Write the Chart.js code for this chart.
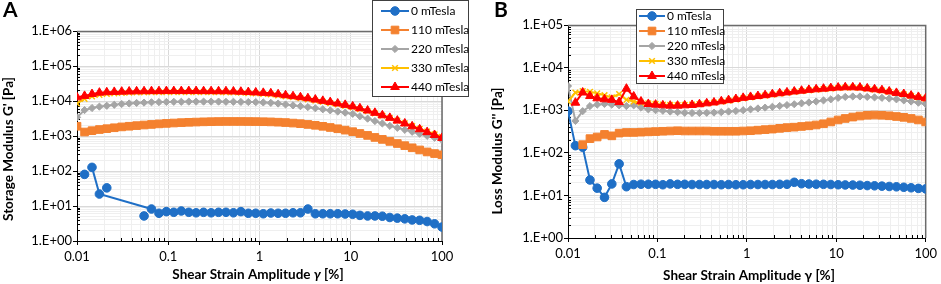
<!DOCTYPE html>
<html>
<head>
<meta charset="utf-8">
<script src="https://cdn.jsdelivr.net/npm/chart.js@4.4.1/dist/chart.umd.min.js"></script>
<style>
  body { margin: 0; background: #fff; }
  .panel { position: absolute; top: 0; }
</style>
</head>
<body>
<div class="panel" style="left:0"><canvas id="chartA" width="470" height="284"></canvas></div>
<div class="panel" style="left:470px"><canvas id="chartB" width="471" height="284"></canvas></div>
<script>
// 전단 변형률 진폭 γ [%]
const strain = [0.01, 0.0121, 0.0146, 0.0176, 0.0212, 0.0256, 0.0309, 0.0373, 0.045, 0.0543,
  0.0655, 0.0791, 0.0954, 0.115, 0.139, 0.168, 0.202, 0.244, 0.295, 0.356,
  0.429, 0.518, 0.625, 0.754, 0.91, 1.1, 1.33, 1.6, 1.93, 2.33,
  2.81, 3.39, 4.09, 4.94, 5.96, 7.2, 8.69, 10.5, 12.6, 15.3,
  18.4, 22.2, 26.8, 32.4, 39.1, 47.1, 56.9, 68.7, 82.9, 100];

// A: Storage Modulus G' [Pa]
const storage0 = [null, null, 127, 22, null, null, null, null, null, null,
  8.2, 6.2, 6.9, 6.6, 7.2, 6.6, 6.4, 6.6, 6.4, 6.6,
  6.6, 6.4, 6.9, 6.2, 6.2, 6.0, 6.3, 6.2, 6.2, 6.4,
  6.4, 8.2, 6.0, 6.0, 6.0, 6.0, 5.9, 5.8, 5.4, 5.2,
  5.2, 5.1, 4.7, 4.5, 4.3, 4.0, 3.9, 3.6, 3.1, 2.5];
// 선으로 연결되지 않은 점
const storage0Loose = [null, 80, null, null, 33, null, null, null, null, 5.2,
  null, null, null, null, null, null, null, null, null, null,
  null, null, null, null, null, null, null, null, null, null,
  null, null, null, null, null, null, null, null, null, null,
  null, null, null, null, null, null, null, null, null, null];
const storage110 = [1900, 1300, 1420, 1530, 1620, 1720, 1820, 1900, 1980, 2060,
  2140, 2220, 2290, 2350, 2410, 2460, 2500, 2540, 2570, 2590,
  2600, 2600, 2600, 2590, 2580, 2560, 2530, 2480, 2420, 2340,
  2250, 2140, 2020, 1890, 1750, 1610, 1470, 1330, 1180, 1040,
  910, 800, 700, 610, 530, 460, 400, 350, 315, 290];
const storage220 = [3420, 5500, 6300, 6900, 7300, 7800, 8200, 8500, 8800, 9000,
  9200, 9300, 9400, 9500, 9500, 9600, 9600, 9600, 9600, 9600,
  9500, 9500, 9400, 9350, 9300, 9100, 8850, 8450, 7950, 7500,
  7100, 6700, 6200, 5800, 5400, 5000, 4650, 4300, 3670, 3130,
  2670, 2280, 1950, 1710, 1500, 1320, 1160, 1010, 890, 770];
const storage330 = [8500, 11500, 13500, 15000, 16000, 16600, 17000, 17300, 17500, 17700,
  17800, 17900, 17900, 18000, 18000, 18000, 18000, 17900, 17900, 17800,
  17700, 17500, 17200, 16800, 16400, 15900, 15400, 14500, 13600, 12800,
  12000, 11200, 10300, 9500, 8700, 8000, 7300, 6600, 5900, 5100,
  4400, 3800, 3250, 2750, 2300, 1920, 1600, 1340, 1120, 950];
const storage440 = [12700, 14000, 15800, 17300, 17800, 18200, 18500, 18700, 18900, 19000,
  19100, 19100, 19200, 19200, 19200, 19200, 19200, 19100, 19100, 19000,
  19000, 18700, 18400, 18000, 17600, 17100, 16600, 15600, 14600, 13700,
  12800, 12000, 11000, 10100, 9300, 8500, 7750, 7000, 6200, 5350,
  4600, 3900, 3300, 2750, 2280, 1890, 1560, 1290, 1070, 880];

// B: Loss Modulus G'' [Pa]
const loss0 = [950, 147, 135, 23, 14.8, 9, 18.6, 55, 16, 18,
  18.3, 18.3, 18.2, 17.8, 18.6, 18.2, 18.2, 18.0, 18.0, 18.0,
  18.0, 17.8, 18.0, 17.8, 17.8, 18.0, 18.0, 18.0, 18.0, 18.2,
  18.2, 20.3, 18.8, 18.5, 18.3, 18.2, 18.0, 17.8, 17.6, 17.5,
  17.3, 17.0, 16.8, 16.5, 16.2, 15.9, 15.5, 15.1, 14.6, 14.2];
const loss110 = [null, null, 155, 215, 235, 270, 250, 290, 300, 300,
  305, 310, 315, 320, 325, 330, 325, 325, 325, 325,
  320, 320, 320, 320, 325, 330, 340, 350, 360, 375,
  390, 400, 415, 430, 450, 480, 530, 590, 640, 690,
  730, 760, 770, 760, 740, 710, 680, 640, 590, 530];
const loss220 = [3700, 560, 950, 1250, 1350, 1400, 1350, 1300, 1250, 1300,
  1150, 1050, 1000, 970, 930, 900, 870, 860, 860, 870,
  880, 900, 930, 960, 1000, 1050, 1100, 1150, 1200, 1260,
  1320, 1380, 1450, 1520, 1600, 1700, 1800, 1950, 2050, 2100,
  2100, 2050, 2000, 1950, 1880, 1800, 1700, 1600, 1500, 1400];
const loss330 = [1600, 2600, 2800, 2700, 2500, 2250, 2000, 2400, 1750, 1600,
  1500, 1450, 1400, 1360, 1330, 1320, 1330, 1350, 1390, 1440,
  1500, 1580, 1680, 1780, 1900, 2000, 2100, 2200, 2320, 2440,
  2560, 2680, 2800, 2920, 3020, 3120, 3220, 3320, 3370, 3370,
  3320, 3180, 3030, 2880, 2700, 2500, 2350, 2160, 2010, 1870];
const loss440 = [null, 1500, 2600, 2150, 1900, 1800, 1750, 1550, 3200, 2100,
  1600, 1400, 1350, 1300, 1280, 1280, 1300, 1330, 1380, 1450,
  1520, 1620, 1720, 1830, 1950, 2050, 2150, 2250, 2380, 2500,
  2620, 2750, 2870, 3000, 3100, 3200, 3300, 3400, 3450, 3450,
  3400, 3250, 3100, 2950, 2750, 2550, 2400, 2200, 2050, 1900];

// 범례 / 축 라벨
const seriesLabels = ["0 mTesla", "110 mTesla", "220 mTesla", "330 mTesla", "440 mTesla"];
const xTickValues = [0.01, 0.1, 1, 10, 100];
const xTickLabels = ["0.01", "0.1", "1", "10", "100"];
const yTickValuesA = [1, 10, 100, 1000, 10000, 100000, 1000000];
const yTickLabelsA = ["1.E+00", "1.E+01", "1.E+02", "1.E+03", "1.E+04", "1.E+05", "1.E+06"];
const yTickValuesB = [1, 10, 100, 1000, 10000, 100000];
const yTickLabelsB = ["1.E+00", "1.E+01", "1.E+02", "1.E+03", "1.E+04", "1.E+05"];

// 스타일
const seriesColors = ["#1f6fc6", "#f4812f", "#a5a5a5", "#ffc000", "#ff0000"];
const seriesMarkers = ["circle", "rect", "rectRot", "crossRot", "triangle"];
const markerRadius = [4.3, 5.4, 3.6, 4, 5];
const FONT = "Lato, 'Open Sans', sans-serif";

function toPoints(values) {
  return strain.map((x, i) => ({ x: x, y: values[i] }));
}

function makeDataset(idx, values, extra) {
  return Object.assign({
    label: seriesLabels[idx],
    data: toPoints(values),
    borderColor: seriesColors[idx],
    backgroundColor: seriesColors[idx],
    pointBackgroundColor: seriesColors[idx],
    pointBorderColor: seriesColors[idx],
    pointStyle: seriesMarkers[idx],
    pointRadius: markerRadius[idx],
    pointBorderWidth: idx === 3 ? 1.5 : 1,
    borderWidth: 2,
    order: 4 - idx, // 나중 시리즈가 위에 그려지도록
    spanGaps: true,
  }, extra || {});
}

// 로그축 눈금 (1~9 x 10^n)
function buildLogTicks(majors) {
  const ticks = [];
  majors.forEach((v, i) => {
    ticks.push({ value: v, major: true });
    if (i < majors.length - 1) {
      for (let k = 2; k <= 9; k++) ticks.push({ value: k * v, major: false });
    }
  });
  return ticks;
}
function labelFor(value, values, labels) {
  const i = values.findIndex((v) => Math.abs(value - v) / v < 1e-6);
  return i >= 0 ? labels[i] : "";
}

// 플롯 테두리 + 안쪽 보조 눈금
const framePlugin = {
  id: "frame",
  beforeDatasetsDraw(chart) {
    const { ctx, chartArea: a, scales } = chart;
    ctx.save();
    ctx.strokeStyle = "#6b6b6b";
    ctx.lineWidth = 1.5;
    ctx.beginPath();
    ctx.moveTo(a.left, a.top + 0.5);
    ctx.lineTo(a.right, a.top + 0.5);
    ctx.lineTo(a.right, a.bottom);
    ctx.stroke();
    ctx.strokeStyle = "#000";
    ctx.lineWidth = 1;
    ctx.beginPath();
    scales.x.ticks.forEach((t) => {
      if (t.major) return;
      const px = Math.round(scales.x.getPixelForValue(t.value)) + 0.5;
      ctx.moveTo(px, a.bottom);
      ctx.lineTo(px, a.bottom - 3);
    });
    scales.y.ticks.forEach((t) => {
      if (t.major) return;
      const py = Math.round(scales.y.getPixelForValue(t.value)) + 0.5;
      ctx.moveTo(a.left, py);
      ctx.lineTo(a.left + 3, py);
    });
    ctx.stroke();
    ctx.restore();
  },
};

function legendPlugin(box) {
  return {
    id: "boxLegend",
    afterDraw(chart) {
      const ctx = chart.ctx;
      ctx.save();
      ctx.fillStyle = "#fff";
      ctx.fillRect(box.x, box.y, box.w, box.h);
      ctx.strokeStyle = "#404040";
      ctx.lineWidth = 1;
      ctx.strokeRect(box.x + 0.5, box.y + 0.5, box.w - 1, box.h - 1);
      seriesLabels.forEach((label, i) => {
        const y = box.y + box.first + i * box.step;
        const x0 = box.x + box.lx0;
        const x1 = box.x + box.lx1;
        ctx.strokeStyle = seriesColors[i];
        ctx.fillStyle = seriesColors[i];
        ctx.lineWidth = 2;
        ctx.beginPath();
        ctx.moveTo(x0, y);
        ctx.lineTo(x1, y);
        ctx.stroke();
        ctx.lineWidth = i === 3 ? 1.5 : 1;
        Chart.helpers.drawPoint(ctx, { pointStyle: seriesMarkers[i], radius: markerRadius[i], borderWidth: ctx.lineWidth, rotation: 0 }, (x0 + x1) / 2, y);
        ctx.fillStyle = "#000";
        ctx.font = box.font;
        ctx.textBaseline = "middle";
        ctx.textAlign = "left";
        ctx.fillText(label, x1 + 2, y);
      });
      ctx.restore();
    },
  };
}

function titlePlugin(t) {
  return {
    id: "titles",
    afterDraw(chart) {
      const ctx = chart.ctx;
      const titleFont = "bold 13.5px " + FONT;
      ctx.save();
      ctx.fillStyle = "#000";
      // 패널 문자
      ctx.font = "bold 21px " + FONT;
      ctx.textAlign = "left";
      ctx.textBaseline = "top";
      ctx.fillText(t.letter, t.letterX, 0);
      // y축 제목
      ctx.font = titleFont;
      ctx.save();
      ctx.translate(t.yTitleX, t.yTitleY);
      ctx.rotate(-Math.PI / 2);
      ctx.textAlign = "center";
      ctx.textBaseline = "middle";
      ctx.fillText(t.yTitle, 0, 0);
      ctx.restore();
      // x축 제목 (γ 부분 기울임)
      const parts = [
        { s: "Shear Strain Amplitude ", f: titleFont },
        { s: "γ", f: (t.italicGamma ? "italic " : "") + titleFont },
        { s: " [%]", f: titleFont },
      ];
      let total = 0;
      parts.forEach((p) => { ctx.font = p.f; p.w = ctx.measureText(p.s).width; total += p.w; });
      let x = t.xTitleX - total / 2;
      ctx.textAlign = "left";
      ctx.textBaseline = "middle";
      parts.forEach((p) => { ctx.font = p.f; ctx.fillText(p.s, x, t.xTitleY); x += p.w; });
      ctx.restore();
    },
  };
}

function makeChart(canvasId, g, datasets, yMax, yValues, yLabels, plugins) {
  const gridColor = (c) => (c.tick && c.tick.major ? "#d9d9d9" : "#efefef");
  const tickColor = (c) => (c.tick && c.tick.major ? "#000" : "rgba(0,0,0,0)");
  new Chart(document.getElementById(canvasId), {
    type: "line",
    data: { datasets: datasets },
    options: {
      responsive: false,
      animation: false,
      layout: { padding: { top: g.top, right: g.width - g.right, left: 0, bottom: 0 } },
      plugins: { legend: { display: false }, tooltip: { enabled: false } },
      scales: {
        x: {
          type: "logarithmic",
          min: 0.01,
          max: 100,
          afterBuildTicks: (s) => { s.ticks = buildLogTicks(xTickValues); },
          afterFit: (s) => { s.height = 284 - g.bottom; },
          ticks: {
            autoSkip: false,
            maxRotation: 0,
            padding: 4,
            color: "#000",
            font: { family: FONT, size: 13 },
            callback: (v) => labelFor(v, xTickValues, xTickLabels),
          },
          grid: { color: gridColor, tickColor: tickColor, tickLength: 4, lineWidth: 1 },
          border: { color: "#000", width: 1 },
        },
        y: {
          type: "logarithmic",
          min: 1,
          max: yMax,
          afterBuildTicks: (s) => { s.ticks = buildLogTicks(yValues); },
          afterFit: (s) => { s.width = g.left; },
          ticks: {
            autoSkip: false,
            padding: 1,
            color: "#000",
            font: { family: FONT, size: 13 },
            callback: (v) => labelFor(v, yValues, yLabels),
          },
          grid: { color: gridColor, tickColor: tickColor, tickLength: 4, lineWidth: 1 },
          border: { color: "#000", width: 1 },
        },
      },
    },
    plugins: [framePlugin].concat(plugins),
  });
}

// A 패널
makeChart("chartA", { left: 77, top: 31, right: 442, bottom: 241, width: 470 }, [
  makeDataset(0, storage0),
  makeDataset(0, storage0Loose, { showLine: false, label: "0 mTesla (loose)" }),
  makeDataset(1, storage110),
  makeDataset(2, storage220),
  makeDataset(3, storage330),
  makeDataset(4, storage440),
], 1000000, yTickValuesA, yTickLabelsA, [
  titlePlugin({ letter: "A", letterX: 3, yTitle: "Storage Modulus G' [Pa]", yTitleX: 9, yTitleY: 149, xTitleX: 258, xTitleY: 275, italicGamma: true }),
  legendPlugin({ x: 372, y: 0, w: 97, h: 97, first: 11, step: 19, lx0: 9, lx1: 37, font: "12px " + FONT }),
]);

// B 패널
makeChart("chartB", { left: 98, top: 25, right: 461, bottom: 238, width: 471 }, [
  makeDataset(0, loss0),
  makeDataset(1, loss110),
  makeDataset(2, loss220),
  makeDataset(3, loss330),
  makeDataset(4, loss440),
], 100000, yTickValuesB, yTickLabelsB, [
  titlePlugin({ letter: "B", letterX: 24, yTitle: "Loss Modulus G'' [Pa]", yTitleX: 28, yTitleY: 151, xTitleX: 279, xTitleY: 276, italicGamma: false }),
  legendPlugin({ x: 166, y: 9, w: 88, h: 75, first: 7, step: 15, lx0: 3, lx1: 29, font: "12px " + FONT }),
]);
</script>
</body>
</html>
